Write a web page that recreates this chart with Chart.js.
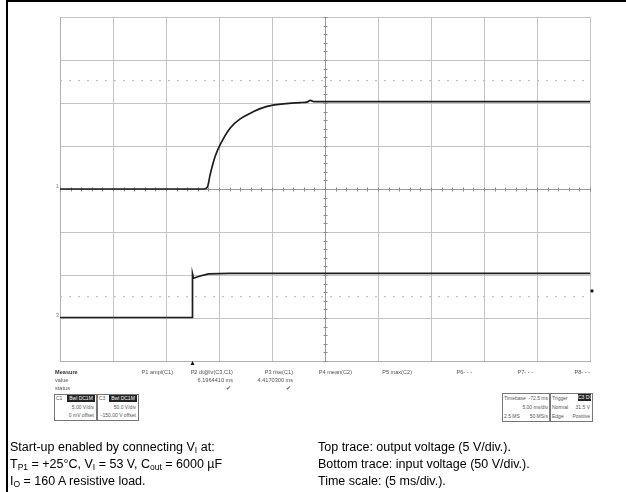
<!DOCTYPE html>
<html>
<head>
<meta charset="utf-8">
<script src="https://cdn.jsdelivr.net/npm/chart.js@4.4.1/dist/chart.umd.min.js"></script>
<style>
  body { margin: 0; background: #fff; font-family: "Liberation Sans", Arial, sans-serif; }
  #page { position: relative; width: 626px; height: 492px; overflow: hidden; }
  #frame { position: absolute; left: 6px; top: 0; width: 640px; height: 500px;
           border-left: 2px solid #000; border-top: 2px solid #000; }
  #chart { position: absolute; left: 0; top: 0; }
  .t { position: absolute; font-size: 5.6px; color: #555; white-space: nowrap; line-height: 8px; }
  .s { font-size: 5px; }
  .r { text-align: right; }
  .box { position: absolute; border: 1px solid #777; background: #fff; }
  .blk { position: absolute; background: #222; color: #fff; font-size: 5px; line-height: 7px;
         text-align: center; white-space: nowrap; overflow: hidden; }
  .cap { position: absolute; font-size: 12.5px; color: #000; line-height: 17px; white-space: nowrap; }
  .cap sub { font-size: 8.5px; vertical-align: -2px; line-height: 0; }
</style>
</head>
<body>
<div id="page">
  <div id="frame"></div>
  <canvas id="chart" width="626" height="492"></canvas>

  <!-- measurement row -->
  <div class="t" style="left:55px;top:368px;font-weight:bold;color:#333">Measure</div>
  <div class="t" style="left:55px;top:376px">value</div>
  <div class="t" style="left:55px;top:384px">status</div>
  <div class="t r" style="left:113px;top:368px;width:60px">P1 ampl(C1)</div>
  <div class="t r" style="left:173px;top:368px;width:60px">P2 dt@lv(C3,C1)</div>
  <div class="t r" style="left:173px;top:376px;width:60px">6.1964410 ms</div>
  <div class="t r" style="left:173px;top:384px;width:58px">&#10004;</div>
  <div class="t r" style="left:233px;top:368px;width:60px">P3 rise(C1)</div>
  <div class="t r" style="left:233px;top:376px;width:60px">4.4170300 ms</div>
  <div class="t r" style="left:233px;top:384px;width:58px">&#10004;</div>
  <div class="t r" style="left:292px;top:368px;width:60px">P4 mean(C2)</div>
  <div class="t r" style="left:352px;top:368px;width:60px">P5 max(C2)</div>
  <div class="t r" style="left:412px;top:368px;width:60px">P6- - -</div>
  <div class="t r" style="left:473px;top:368px;width:60px">P7- - -</div>
  <div class="t r" style="left:530px;top:368px;width:60px">P8- - -</div>

  <!-- channel descriptors -->
  <div class="box" style="left:54px;top:394px;width:41px;height:25px"></div>
  <div class="t s" style="left:56px;top:394px">C1</div>
  <div class="blk" style="left:67px;top:395px;width:28px">Bwl DC1M</div>
  <div class="t s r" style="left:55px;top:403px;width:39px">5.00 V/div</div>
  <div class="t s r" style="left:55px;top:411px;width:39px">0 mV offset</div>
  <div class="box" style="left:97px;top:394px;width:40px;height:25px"></div>
  <div class="t s" style="left:99px;top:394px">C3</div>
  <div class="blk" style="left:109px;top:395px;width:28px">Bwl DC1M</div>
  <div class="t s r" style="left:98px;top:403px;width:38px">50.0 V/div</div>
  <div class="t s r" style="left:98px;top:411px;width:38px">-150.00 V offset</div>

  <!-- timebase / trigger -->
  <div class="box" style="left:502px;top:393px;width:46px;height:27px"></div>
  <div class="t s" style="left:504px;top:394px">Timebase</div>
  <div class="t s r" style="left:524px;top:394px;width:24px">-72.5 ms</div>
  <div class="t s r" style="left:510px;top:403px;width:38px">5.00 ms/div</div>
  <div class="t s" style="left:504px;top:412px">2.5 MS</div>
  <div class="t s r" style="left:520px;top:412px;width:28px">50 MS/s</div>
  <div class="box" style="left:550px;top:393px;width:41px;height:27px"></div>
  <div class="t s" style="left:552px;top:394px">Trigger</div>
  <div class="blk" style="left:578px;top:394px;width:13px">C3 DC</div>
  <div class="t s" style="left:552px;top:403px">Normal</div>
  <div class="t s r" style="left:560px;top:403px;width:30px">31.5 V</div>
  <div class="t s" style="left:552px;top:412px">Edge</div>
  <div class="t s r" style="left:560px;top:412px;width:30px">Positive</div>

  <!-- caption -->
  <div class="cap" style="left:10px;top:439px">
    Start-up enabled by connecting V<sub>I</sub> at:<br>
    T<sub>P1</sub> = +25°C, V<sub>I</sub> = 53 V, C<sub>out</sub> = 6000 µF<br>
    I<sub>O</sub> = 160 A resistive load.
  </div>
  <div class="cap" style="left:318px;top:439px">
    Top trace: output voltage (5 V/div.).<br>
    Bottom trace: input voltage (50 V/div.).<br>
    Time scale: (5 ms/div.).
  </div>
</div>

<script>
// output voltage (C1), time in ms from left edge of screen
const outTime = [0, 13.6, 13.9, 14.17, 14.64, 15.11, 16.06, 17.0, 18.26, 19.53, 21.09, 22.67, 23.3, 23.62, 23.95, 50];
const outVolt = [0, 0, 0.2, 1.7, 3.8, 5.15, 7.1, 8.15, 9.0, 9.6, 9.9, 10.05, 10.1, 10.3, 10.15, 10.15];

// input voltage (C3)
const inTime = [0, 12.46, 12.5, 12.59, 13.22, 14.01, 16.0, 50];
const inVolt = [0.6, 0.6, 51.2, 46.2, 48.8, 51.2, 52.0, 52.0];

// screen settings
const timeRange = [0, 50];      // 5 ms/div, 10 div
const outRange = [-20, 20];     // 5 V/div, ground at centre
const inRange = [-50, 350];     // 50 V/div, ground 3 div below centre
const outCursor = 12.6;
const inCursor = 24.8;
const trigTime = 12.5;
const trigLevel = 31.5;

const toPoints = (xs, ys) => xs.map((t, i) => ({ x: t, y: ys[i] }));

const scopeMarks = {
  id: "scopeMarks",
  beforeDatasetsDraw(chart) {
    const { ctx, scales } = chart;
    const x = scales.x, y = scales.y, yIn = scales.yIn;
    const cx = Math.round(x.getPixelForValue(25)) + 0.5;
    const cy = Math.round(y.getPixelForValue(0)) + 0.5;
    ctx.save();
    ctx.strokeStyle = "#8c8c8c";
    ctx.lineWidth = 1;
    ctx.beginPath();
    for (let v = outRange[0]; v <= outRange[1]; v += 1) {
      const py = Math.round(y.getPixelForValue(v)) + 0.5;
      ctx.moveTo(cx - 2, py);
      ctx.lineTo(cx + 2, py);
    }
    for (let t = timeRange[0]; t <= timeRange[1]; t += 1) {
      const px = Math.round(x.getPixelForValue(t)) + 0.5;
      ctx.moveTo(px, cy - 2);
      ctx.lineTo(px, cy + 2);
    }
    ctx.stroke();
    // ground markers
    ctx.fillStyle = "#888";
    ctx.font = "6px 'Liberation Sans'";
    ctx.textAlign = "right";
    ctx.textBaseline = "bottom";
    ctx.fillText("1", x.left - 1, y.getPixelForValue(0));
    ctx.fillText("3", x.left - 1, yIn.getPixelForValue(0));
    ctx.restore();
  },
  afterDatasetsDraw(chart) {
    const { ctx, scales } = chart;
    const x = scales.x, yIn = scales.yIn;
    ctx.save();
    ctx.fillStyle = "#111";
    // trigger position
    const tx = x.getPixelForValue(trigTime);
    const ty = x.bottom + 1;
    ctx.beginPath();
    ctx.moveTo(tx, ty - 1);
    ctx.lineTo(tx - 2, ty + 3);
    ctx.lineTo(tx + 2, ty + 3);
    ctx.closePath();
    ctx.fill();
    // trigger level
    ctx.beginPath();
    ctx.arc(x.right + 2, yIn.getPixelForValue(trigLevel), 1.6, 0, Math.PI * 2);
    ctx.fill();
    ctx.restore();
  },
};

new Chart(document.getElementById("chart"), {
  type: "scatter",
  data: {
    datasets: [
      {
        label: "cursor C1",
        data: toPoints(timeRange, [outCursor, outCursor]),
        yAxisID: "y",
        showLine: true,
        borderColor: "#b4b4b4",
        borderWidth: 1,
        borderDash: [2, 7],
        pointRadius: 0,
      },
      {
        label: "cursor C3",
        data: toPoints(timeRange, [inCursor, inCursor]),
        yAxisID: "yIn",
        showLine: true,
        borderColor: "#b4b4b4",
        borderWidth: 1,
        borderDash: [2, 7],
        pointRadius: 0,
      },
      {
        label: "Output voltage",
        data: toPoints(outTime, outVolt),
        yAxisID: "y",
        showLine: true,
        cubicInterpolationMode: "monotone",
        borderColor: "#1c1c1c",
        borderWidth: 1.7,
        pointRadius: 0,
      },
      {
        label: "Input voltage",
        data: toPoints(inTime, inVolt),
        yAxisID: "yIn",
        showLine: true,
        borderColor: "#1c1c1c",
        borderWidth: 1.7,
        pointRadius: 0,
      },
    ],
  },
  options: {
    responsive: false,
    animation: false,
    events: [],
    layout: { padding: { left: 60, top: 17, right: 36, bottom: 131 } },
    plugins: { legend: { display: false }, tooltip: { enabled: false } },
    scales: {
      x: {
        type: "linear",
        min: timeRange[0],
        max: timeRange[1],
        ticks: { display: false, stepSize: 5 },
        grid: {
          drawTicks: false,
          lineWidth: 1,
          color: (c) => (c.tick && c.tick.value === 25 ? "#9a9a9a" : "#c4c4c4"),
        },
        border: { color: "#b0b0b0" },
        afterFit: (s) => { s.height = 0; },
      },
      y: {
        position: "left",
        min: outRange[0],
        max: outRange[1],
        ticks: { display: false, stepSize: 5 },
        grid: {
          drawTicks: false,
          lineWidth: 1,
          color: (c) => (c.tick && c.tick.value === 0 ? "#9a9a9a" : "#c4c4c4"),
        },
        border: { color: "#b0b0b0" },
        afterFit: (s) => { s.width = 0; },
      },
      yIn: {
        display: false,
        min: inRange[0],
        max: inRange[1],
      },
    },
  },
  plugins: [scopeMarks],
});
</script>
</body>
</html>
